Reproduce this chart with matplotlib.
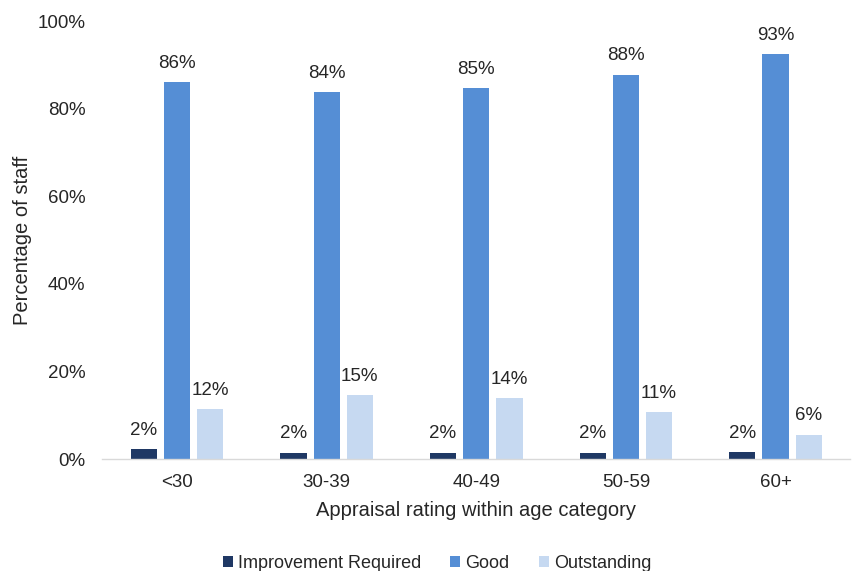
import numpy as np
import matplotlib.pyplot as plt

plt.rcParams['font.family'] = ['Liberation Sans', 'DejaVu Sans']

categories = ['<30', '30-39', '40-49', '50-59', '60+']
series_names = ['Improvement Required', 'Good', 'Outstanding']
improvement = [2.4, 1.5, 1.5, 1.5, 1.6]
good = [86.1, 83.8, 84.7, 87.8, 92.5]
outstanding = [11.4, 14.6, 13.9, 10.8, 5.6]
labels_imp = ['2%', '2%', '2%', '2%', '2%']
labels_good = ['86%', '84%', '85%', '88%', '93%']
labels_out = ['12%', '15%', '14%', '11%', '6%']
colors = ['#1F3864', '#558ED5', '#C6D9F1']

fig = plt.figure(figsize=(8.52, 5.71), dpi=100)
ax = fig.add_axes([0.12, 0.196, 0.878, 0.767])

x = np.arange(len(categories))
width = 0.175
offset = 0.222
for i, (vals, labs) in enumerate(zip([improvement, good, outstanding],
                                     [labels_imp, labels_good, labels_out])):
    pos = x + (i - 1) * offset
    bars = ax.bar(pos, vals, width, color=colors[i], label=series_names[i])
    for b, lab in zip(bars, labs):
        ax.text(b.get_x() + b.get_width() / 2, b.get_height() + 2.3, lab,
                ha='center', va='bottom', fontsize=13.5, color='#262626')

ax.set_xlim(-0.5, len(categories) - 0.5)
ax.set_ylim(0, 100)
ax.set_yticks(range(0, 101, 20))
ax.set_yticklabels([f'{v}%' for v in range(0, 101, 20)])
ax.set_xticks(x)
ax.set_xticklabels(categories)
ax.tick_params(axis='both', length=0, labelsize=13.5, colors='#262626')
ax.tick_params(axis='x', pad=11)
ax.tick_params(axis='y', pad=12)

for s in ['top', 'right', 'left']:
    ax.spines[s].set_visible(False)
ax.spines['bottom'].set_color('#D9D9D9')
ax.spines['bottom'].set_linewidth(1.0)

ax.set_ylabel('Percentage of staff', fontsize=14.5, color='#262626', labelpad=4)
ax.set_xlabel('Appraisal rating within age category', fontsize=14.5,
              color='#262626', labelpad=7)

fig.legend(loc='lower center', bbox_to_anchor=(0.513, -0.03), ncol=3,
           frameon=False, fontsize=13, handlelength=0.55, handleheight=0.55,
           handletextpad=0.3, columnspacing=1.6, labelcolor='#262626')

fig.savefig('out.png', dpi=100)
